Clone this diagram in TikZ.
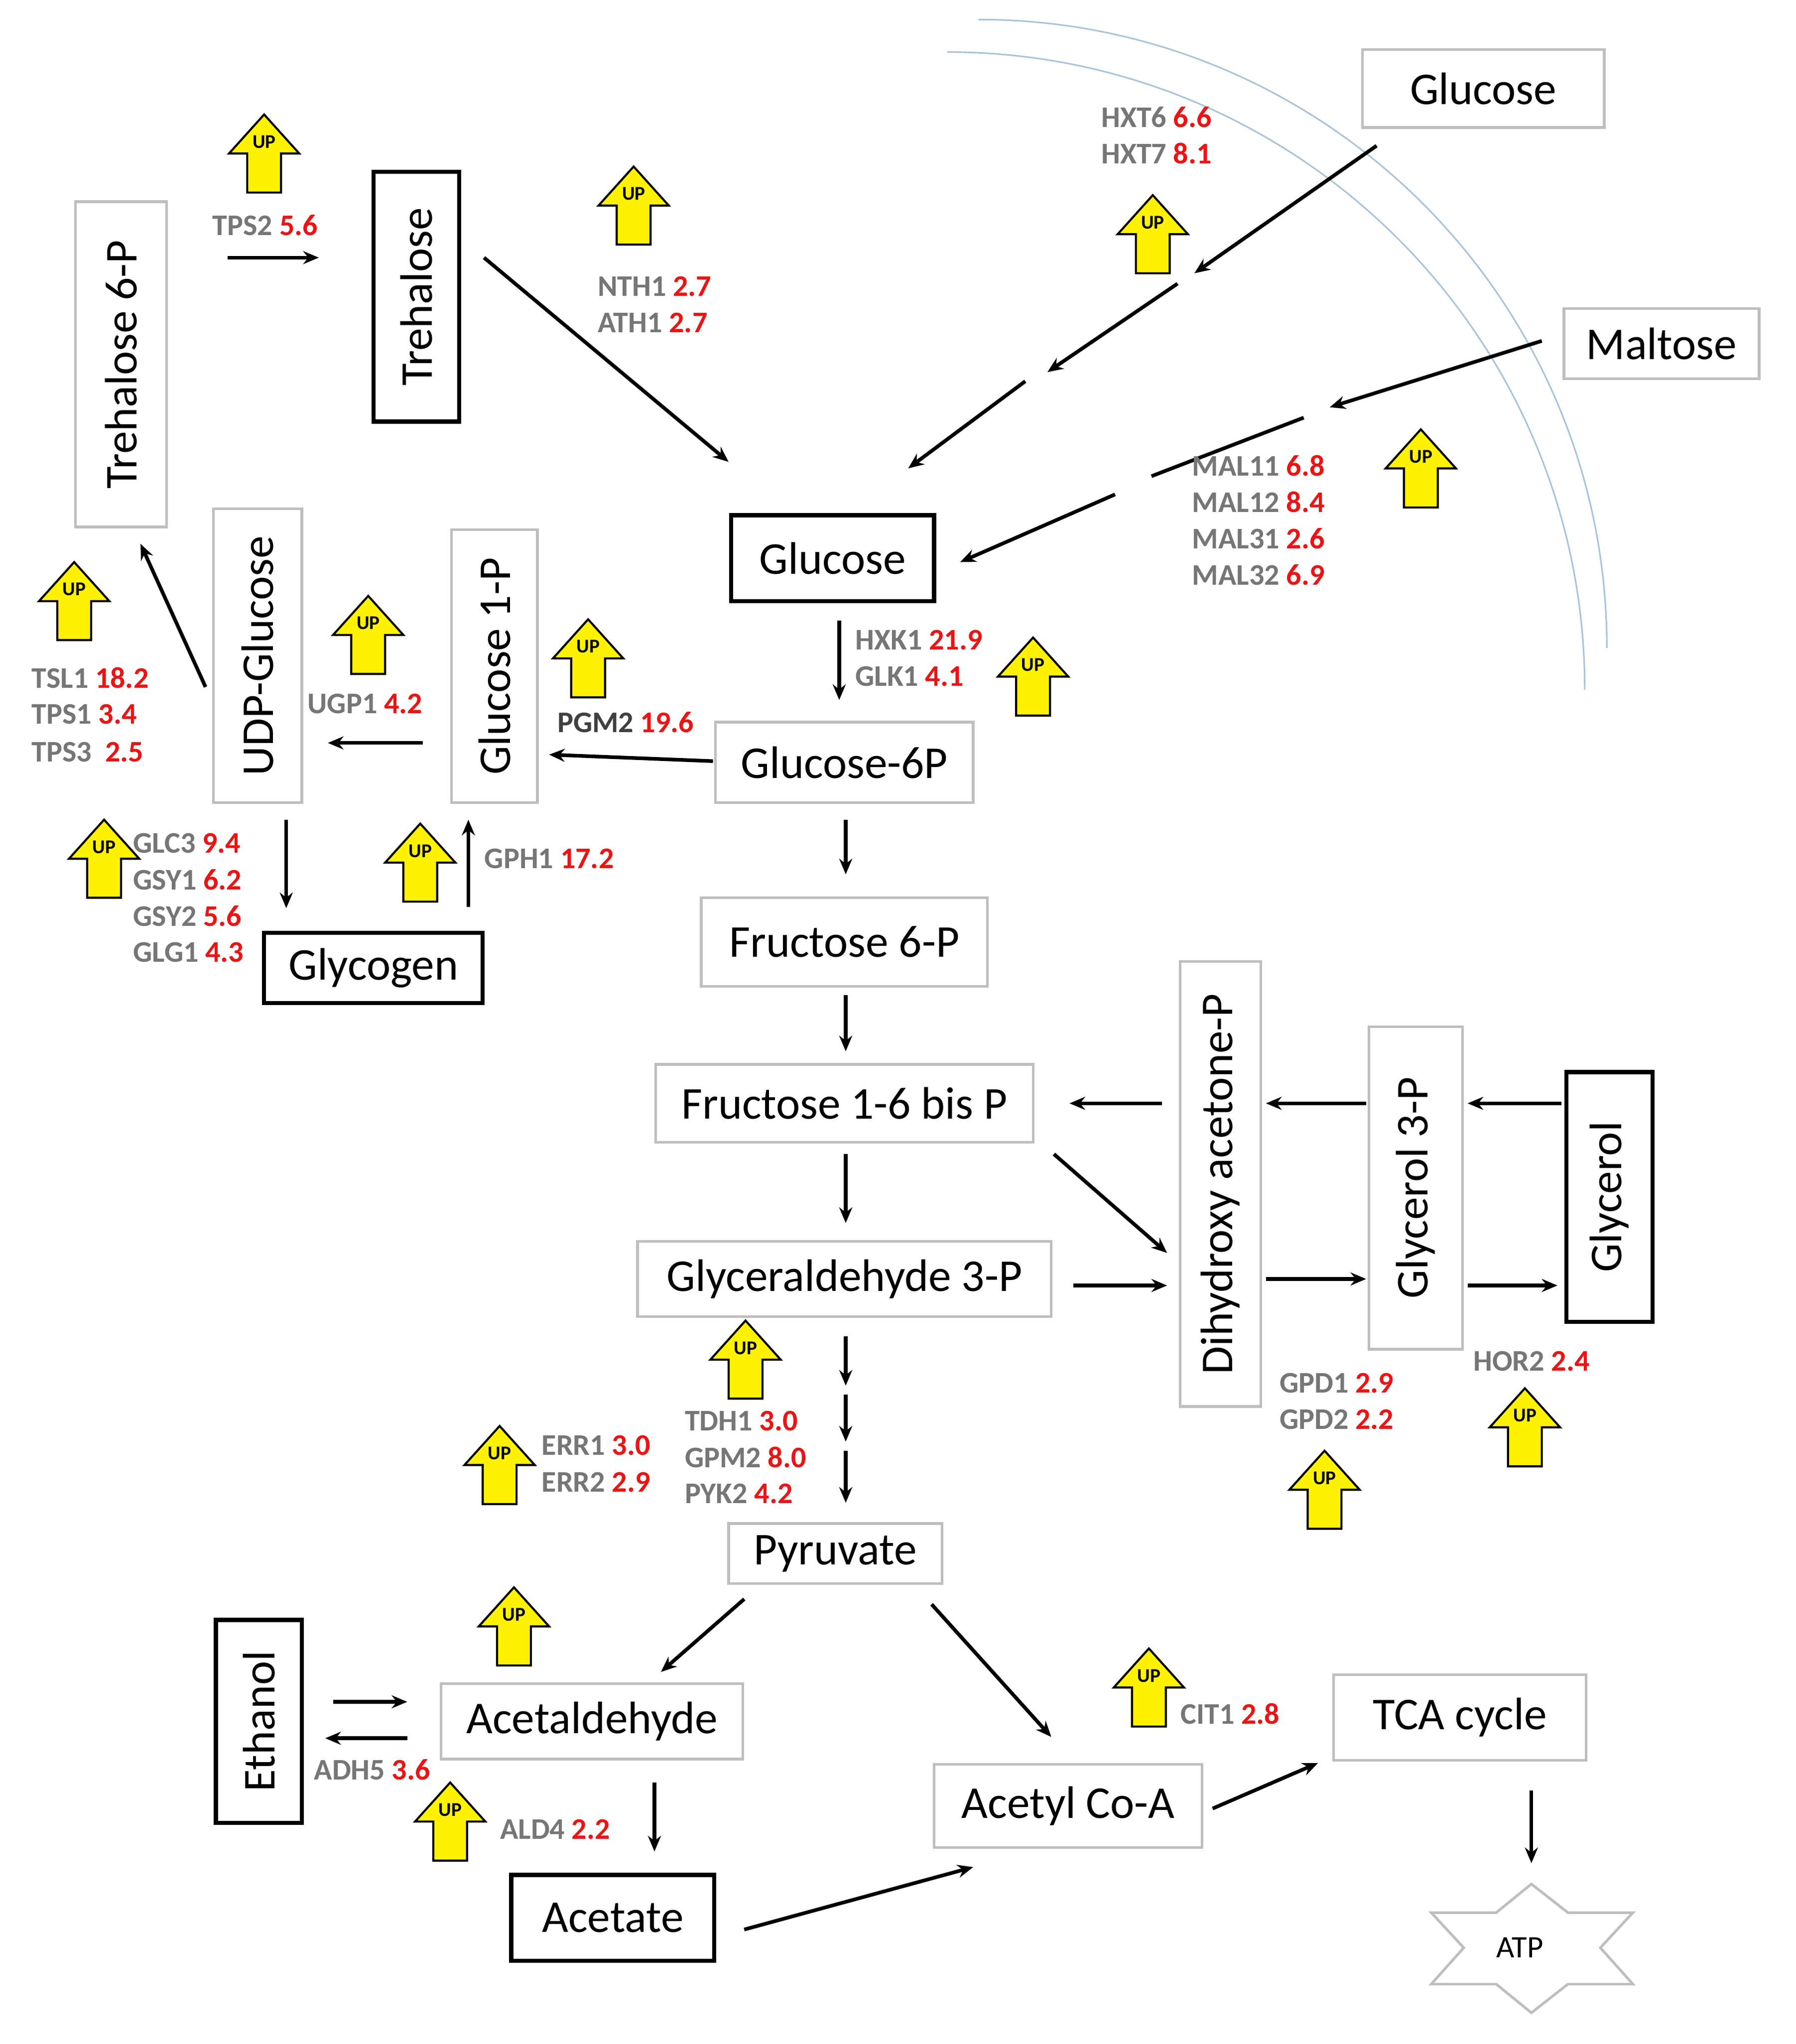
\documentclass[tikz,border=0pt]{standalone}
\usepackage{fontspec}
\setmainfont{Carlito}
\usetikzlibrary{arrows.meta}
\definecolor{gg}{RGB}{118,118,118}
\definecolor{rr}{RGB}{235,20,20}
\definecolor{bx}{RGB}{190,190,190}
\definecolor{arcc}{RGB}{170,195,220}
\tikzset{
 gbox/.style={draw=bx,line width=1pt,inner sep=0pt,font=\fontsize{17.5}{20}\selectfont},
 bbox/.style={draw=black,line width=1.6pt,inner sep=0pt,font=\fontsize{17.5}{20}\selectfont},
 arr/.style={-{Stealth[length=6pt,width=5pt]},line width=1.4pt},
 gene/.style={font=\fontsize{11.5}{13}\selectfont\bfseries,anchor=west,inner sep=0pt},
 up/.pic={\draw[fill=yellow,line width=0.8pt] (-13,30)--(13,30)--(13,0)--(27,0)--(0,-30)--(-27,0)--(-13,0)--cycle;
   \node[font=\fontsize{7.5}{8}\selectfont\bfseries,inner sep=0pt] at (0,-9) {UP};}
}
\newcommand\gl[4]{\node[gene] at (#1,#2) {\textcolor{gg}{#3}~\textcolor{rr}{#4}};}
\begin{document}
\begin{tikzpicture}[x=0.5pt,y=-0.5pt]
\useasboundingbox (0,0) rectangle (1380,1571);
% membrane arcs
\draw[arcc,line width=0.6pt] (752,15) arc[start angle=-90,end angle=0,radius=483];
\draw[arcc,line width=0.6pt] (728,40) arc[start angle=-90,end angle=0,radius=490];
% nodes
\node[gbox,minimum width=93pt,minimum height=30pt] (glcext) at (1140,68) {Glucose};
\node[gbox,minimum width=75pt,minimum height=27pt] (mal) at (1277,264) {Maltose};
\node[bbox,minimum width=78pt,minimum height=33pt] (glc) at (640,429) {Glucose};
\node[gbox,minimum width=99pt,minimum height=31pt] (g6p) at (649,586) {Glucose-6P};
\node[gbox,minimum width=110pt,minimum height=34pt] (f6p) at (649,724) {Fructose 6-P};
\node[gbox,minimum width=145pt,minimum height=30pt] (f16) at (649,848) {Fructose 1-6 bis P};
\node[gbox,minimum width=159pt,minimum height=29pt] (ga3p) at (649,983) {Glyceraldehyde 3-P};
\node[gbox,minimum width=82pt,minimum height=23pt] (pyr) at (642,1194) {Pyruvate};
\node[gbox,minimum width=116pt,minimum height=29pt] (acald) at (455,1323) {Acetaldehyde};
\node[bbox,minimum width=78pt,minimum height=33pt] (acet) at (471,1474) {Acetate};
\node[gbox,minimum width=103pt,minimum height=32pt] (acoa) at (821,1388) {Acetyl Co-A};
\node[gbox,minimum width=97pt,minimum height=33pt] (tca) at (1122,1320) {TCA cycle};
\node[bbox,minimum width=84pt,minimum height=27pt] (glyc) at (287,744) {Glycogen};
\node[bbox,rotate=90,minimum width=78pt,minimum height=33pt] (eth) at (199,1323) {Ethanol};
\node[gbox,rotate=90,minimum width=125pt,minimum height=35pt] (t6p) at (93,280) {Trehalose 6-P};
\node[bbox,rotate=90,minimum width=96pt,minimum height=33pt] (tre) at (320,228) {Trehalose};
\node[gbox,rotate=90,minimum width=113pt,minimum height=34pt] (udp) at (198,504) {UDP-Glucose};
\node[gbox,rotate=90,minimum width=105pt,minimum height=33pt] (g1p) at (380,512) {Glucose 1-P};
\node[gbox,rotate=90,minimum width=171pt,minimum height=31pt] (dhap) at (938,910) {Dihydroxy acetone-P};
\node[gbox,rotate=90,minimum width=124pt,minimum height=36pt] (g3p) at (1088,913) {Glycerol 3-P};
\node[bbox,rotate=90,minimum width=96pt,minimum height=33pt] (gly) at (1237,920) {Glycerol};
\draw[bx,line width=1pt] (1100,1470)--(1150,1470)--(1177,1448)--(1205,1470)--(1255,1470)--(1230,1497)--(1255,1525)--(1205,1525)--(1177,1547)--(1150,1525)--(1100,1525)--(1125,1497)--cycle;
\node[font=\fontsize{12}{14}\selectfont] (atp) at (1168,1497) {ATP};
% arrows
\draw[arr] (1058,112)--(918,210);
\draw[arr] (905,218)--(805,286);
\draw[arr] (788,293)--(698,360);
\draw[arr] (1185,262)--(1022,313);
\draw[line width=1.4pt] (1002,321)--(885,366);
\draw[arr] (857,380)--(738,432);
\draw[arr] (372,198)--(560,355);
\draw[arr] (175,198)--(245,198);
\draw[arr] (645,477)--(645,538);
\draw[arr] (548,585)--(422,580);
\draw[arr] (325,571)--(252,571);
\draw[arr] (158,528)--(108,418);
\draw[arr] (220,630)--(220,698);
\draw[arr] (360,697)--(360,630);
\draw[arr] (650,630)--(650,672);
\draw[arr] (650,765)--(650,808);
\draw[arr] (650,887)--(650,940);
\draw[arr] (893,848)--(822,848);
\draw[arr] (1050,848)--(973,848);
\draw[arr] (1200,848)--(1128,848);
\draw[arr] (810,887)--(897,963);
\draw[arr] (825,988)--(897,988);
\draw[arr] (973,983)--(1050,983);
\draw[arr] (1128,988)--(1197,988);
\draw[arr] (650,1027)--(650,1065);
\draw[arr] (650,1072)--(650,1108);
\draw[arr] (650,1115)--(650,1155);
\draw[arr] (572,1229)--(508,1285);
\draw[arr] (716,1233)--(808,1335);
\draw[arr] (256,1308)--(313,1308);
\draw[arr] (313,1336)--(250,1336);
\draw[arr] (503,1370)--(503,1423);
\draw[arr] (572,1483)--(748,1435);
\draw[arr] (932,1390)--(1013,1355);
\draw[arr] (1177,1376)--(1177,1432);
% up arrows
\foreach \p in {(203,118),(487,158),(886,180),(1092,360),(57,462),(283,488),(452,506),(794,520),(80,660),(323,663),(573,1045),(384,1126),(1018,1145),(1172,1097),(395,1250),(883,1297),(346,1400)}
  \pic at \p {up};
% gene labels
\gl{846}{90}{HXT6}{6.6}\gl{846}{118}{HXT7}{8.1}
\gl{163}{173}{TPS2}{5.6}
\gl{459}{220}{NTH1}{2.7}\gl{459}{248}{ATH1}{2.7}
\gl{916}{358}{MAL11}{6.8}\gl{916}{386}{MAL12}{8.4}\gl{916}{414}{MAL31}{2.6}\gl{916}{442}{MAL32}{6.9}
\gl{657}{492}{HXK1}{21.9}\gl{657}{520}{GLK1}{4.1}
\gl{24}{521}{TSL1}{18.2}\gl{24}{549}{TPS1}{3.4}\gl{24}{578}{TPS3}{~2.5}
\gl{236}{541}{UGP1}{4.2}
\node[gene] at (428,555) {\textcolor{black!75}{PGM2}~\textcolor{rr}{19.6}};
\gl{102}{648}{GLC3}{9.4}\gl{102}{676}{GSY1}{6.2}\gl{102}{704}{GSY2}{5.6}\gl{102}{732}{GLG1}{4.3}
\gl{372}{660}{GPH1}{17.2}
\gl{526}{1092}{TDH1}{3.0}\gl{526}{1120}{GPM2}{8.0}\gl{526}{1148}{PYK2}{4.2}
\gl{416}{1111}{ERR1}{3.0}\gl{416}{1139}{ERR2}{2.9}
\gl{983}{1063}{GPD1}{2.9}\gl{983}{1091}{GPD2}{2.2}
\gl{1132}{1046}{HOR2}{2.4}
\gl{907}{1317}{CIT1}{2.8}
\gl{241}{1360}{ADH5}{3.6}
\gl{384}{1406}{ALD4}{2.2}
\end{tikzpicture}
\end{document}
